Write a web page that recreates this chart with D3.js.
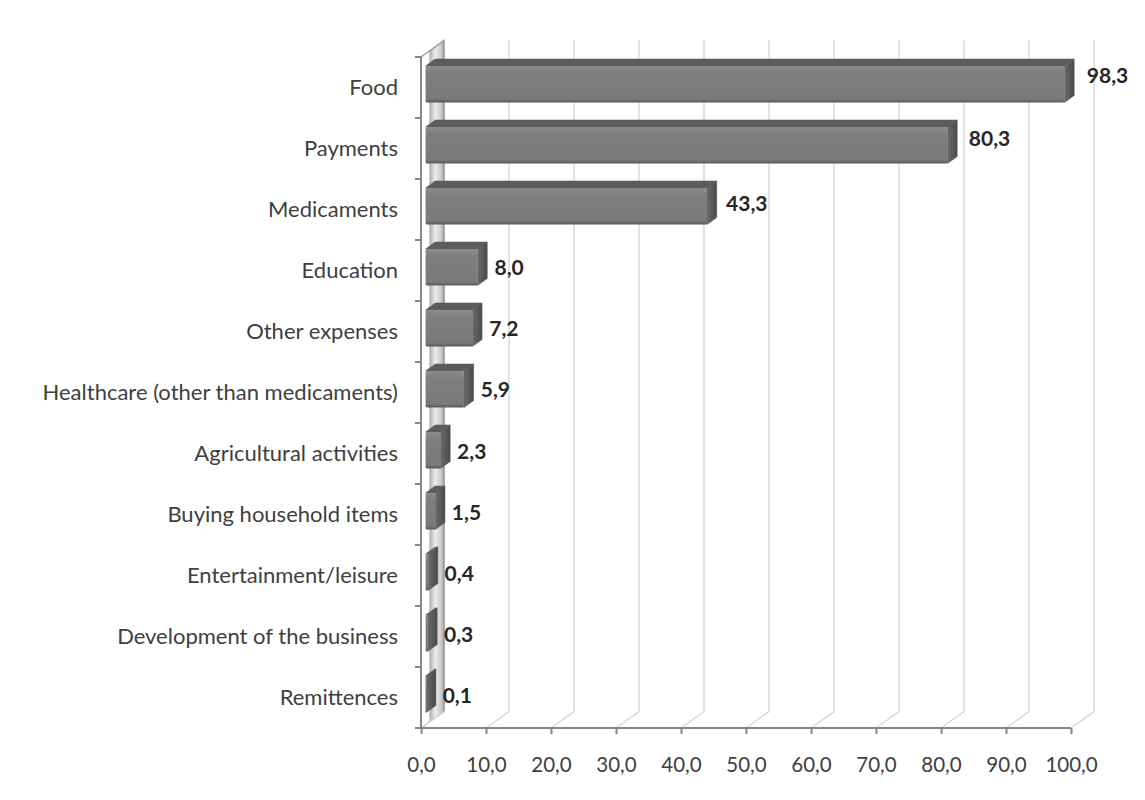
<!DOCTYPE html>
<html>
<head>
<meta charset="utf-8">
<script src="https://cdn.jsdelivr.net/npm/d3@7"></script>
<style>
  html, body { margin: 0; padding: 0; background: #fff; }
  svg { display: block; }
  text { font-family: Lato, "Open Sans", sans-serif; }
</style>
</head>
<body>
<svg id="chart" width="1145" height="800"></svg>
<script>
// Spending categories (top to bottom) and share of respondents, %
const categories = [
  "Food",
  "Payments",
  "Medicaments",
  "Education",
  "Other expenses",
  "Healthcare (other than medicaments)",
  "Agricultural activities",
  "Buying household items",
  "Entertainment/leisure",
  "Development of the business",
  "Remittences"
];
const values = [98.3, 80.3, 43.3, 8.0, 7.2, 5.9, 2.3, 1.5, 0.4, 0.3, 0.1];
const xTicks = [0, 10, 20, 30, 40, 50, 60, 70, 80, 90, 100];

const fmt = v => v.toFixed(1).replace(".", ",");

const svg = d3.select("#chart");

// front plane of the plot box
const pLeft = 421, pRight = 1071, pTop = 57, pBottom = 728;
// depth offset of the back wall
const DX = 23, DY = -16.5;
// bars sit part way into the depth
const f0 = 0.2, f1 = 0.62;

const x = d3.scaleLinear().domain([0, 100]).range([pLeft, pRight]);
const y = d3.scaleBand().domain(categories).range([pTop, pBottom])
  .paddingInner(0.4).paddingOuter(0.2);
const band = d3.scaleBand().domain(categories).range([pTop, pBottom]);

const defs = svg.append("defs");
const wallGrad = defs.append("linearGradient").attr("id", "wall")
  .attr("x1", 0).attr("x2", 1).attr("y1", 0).attr("y2", 0);
[[0, "#ffffff"], [0.32, "#ffffff"], [0.4, "#b4b4b4"], [0.62, "#ececec"],
 [0.85, "#cfcfcf"], [1, "#a8a8a8"]].forEach(([o, c]) =>
  wallGrad.append("stop").attr("offset", o).attr("stop-color", c));

const frontGrad = defs.append("linearGradient").attr("id", "front")
  .attr("x1", 0).attr("x2", 0).attr("y1", 0).attr("y2", 1);
[[0, "#8c8c8c"], [0.12, "#848484"], [0.2, "#7e7e7e"], [0.9, "#7a7a7a"],
 [1, "#585858"]].forEach(([o, c]) =>
  frontGrad.append("stop").attr("offset", o).attr("stop-color", c));

const sideGrad = defs.append("linearGradient").attr("id", "side")
  .attr("x1", 0).attr("x2", 1).attr("y1", 0).attr("y2", 0);
[[0, "#6a6a6a"], [0.5, "#5a5a5a"], [1, "#4a4a4a"]].forEach(([o, c]) =>
  sideGrad.append("stop").attr("offset", o).attr("stop-color", c));

// back wall gridlines and floor lines
const grid = svg.append("g").attr("stroke", "#d9d9d9").attr("stroke-width", 1.5)
  .attr("fill", "none");
xTicks.forEach(t => {
  const xf = x(t), xb = xf + DX;
  grid.append("path").attr("d", `M${xb},${pTop + DY}V${pBottom + DY}L${xf},${pBottom}`);
});

// side wall at zero
svg.append("path")
  .attr("d", `M${pLeft},${pTop}L${pLeft + DX},${pTop + DY}L${pLeft + DX},${pBottom + DY}L${pLeft},${pBottom}Z`)
  .attr("fill", "url(#wall)");
svg.append("path")
  .attr("d", `M${pLeft},${pTop}L${pLeft + DX},${pTop + DY}V${pBottom + DY}`)
  .attr("fill", "none").attr("stroke", "#9a9a9a").attr("stroke-width", 1.5);
svg.append("path")
  .attr("d", `M${pLeft},${pBottom}L${pLeft + DX},${pBottom + DY}`)
  .attr("fill", "none").attr("stroke", "#d0d0d0").attr("stroke-width", 1.5);

// bars
const bars = svg.append("g");
categories.forEach((c, i) => {
  const v = values[i];
  const ox = DX * f0, oy = DY * f0;
  const dx = DX * (f1 - f0), dy = DY * (f1 - f0);
  const x0 = pLeft + ox, x1 = x(v) + ox;
  const yt = y(c) + oy, yb = y(c) + y.bandwidth() + oy;
  const g = bars.append("g");
  // top face
  g.append("path")
    .attr("d", `M${x0},${yt}L${x0 + dx},${yt + dy}L${x1 + dx},${yt + dy}L${x1},${yt}Z`)
    .attr("fill", "#5c5c5c").attr("stroke", "#5c5c5c").attr("stroke-width", 0.5)
    .attr("stroke-linejoin", "round");
  // end face
  g.append("path")
    .attr("d", `M${x1},${yt}L${x1 + dx},${yt + dy}L${x1 + dx},${yb + dy}L${x1},${yb}Z`)
    .attr("fill", "url(#side)").attr("stroke", "#555").attr("stroke-width", 0.5)
    .attr("stroke-linejoin", "round");
  // front face
  g.append("rect")
    .attr("x", x0).attr("y", yt)
    .attr("width", Math.max(x1 - x0, 0.5)).attr("height", yb - yt)
    .attr("rx", 1.5)
    .attr("fill", "url(#front)");
  // value label
  bars.append("text")
    .attr("x", x(v) + 21 + v * 0.06)
    .attr("y", band(c) + band.bandwidth() / 2 - 2 - v * 0.1)
    .attr("dy", "0.35em")
    .attr("font-size", 21).attr("font-weight", "bold").attr("fill", "#262626")
    .text(fmt(v));
});

// front axes
const axisCol = "#868686";
const xAxis = d3.axisBottom(x).tickValues(xTicks).tickSize(6).tickPadding(23)
  .tickFormat(fmt);
const gx = svg.append("g").attr("transform", `translate(0,${pBottom})`).call(xAxis);
gx.select(".domain").attr("stroke", axisCol).attr("stroke-width", 2)
  .attr("d", `M${pLeft},0H${pRight}`);
gx.selectAll(".tick line").attr("stroke", axisCol).attr("stroke-width", 2);
gx.selectAll(".tick text").attr("font-size", 20.5).attr("fill", "#404040")
  .style("font-family", "Lato, sans-serif");

const gy = svg.append("g");
gy.append("line").attr("x1", pLeft).attr("x2", pLeft).attr("y1", pTop).attr("y2", pBottom)
  .attr("stroke", axisCol).attr("stroke-width", 2);
d3.range(categories.length + 1).forEach(i => {
  const yy = pTop + i * band.step();
  gy.append("line").attr("x1", pLeft - 6).attr("x2", pLeft).attr("y1", yy).attr("y2", yy)
    .attr("stroke", axisCol).attr("stroke-width", 2);
});
gy.selectAll("text.cat").data(categories).join("text")
  .attr("class", "cat")
  .attr("x", 398)
  .attr("y", d => band(d) + band.bandwidth() / 2)
  .attr("dy", "0.35em")
  .attr("text-anchor", "end")
  .attr("font-size", 22).attr("fill", "#404040")
  .text(d => d);
</script>
</body>
</html>
